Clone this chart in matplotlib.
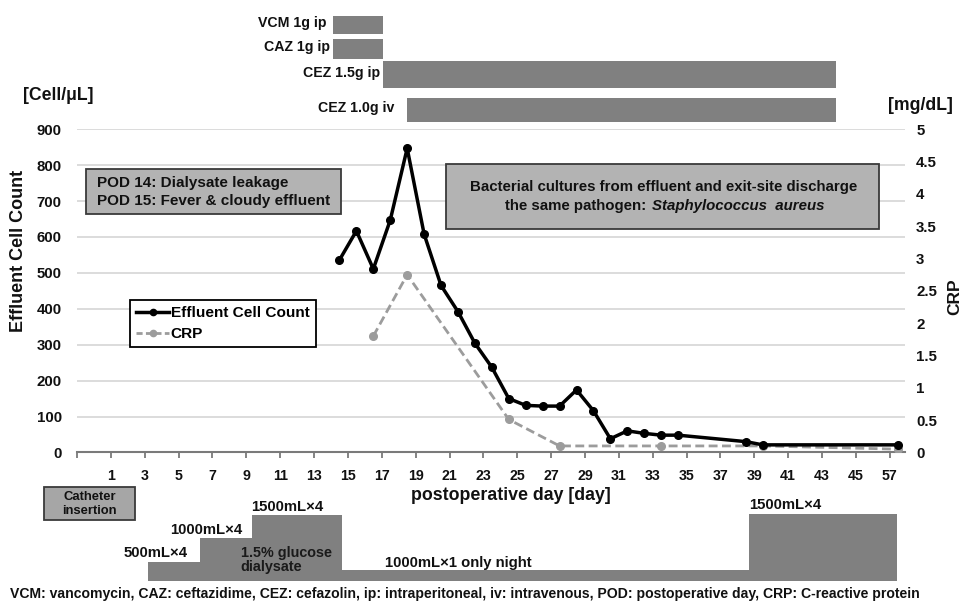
import matplotlib
matplotlib.use("Agg")
import matplotlib.pyplot as plt
from matplotlib.patches import Rectangle
from matplotlib.lines import Line2D
import numpy as np

plt.rcParams['font.family'] = ['Liberation Sans', 'DejaVu Sans']
plt.rcParams['font.weight'] = 'bold'

# ---------------- data ----------------
cell_days = [15, 16, 17, 18, 19, 20, 21, 22, 23, 24, 25, 26, 27, 28, 29, 30, 31, 32, 33, 34, 35, 39, 40, 57]
cell_vals = [536, 617, 511, 647, 847, 608, 465, 392, 304, 237, 150, 131, 129, 129, 174, 116, 38, 60, 53, 48, 48, 30, 21, 21]

crp_days = [17, 19, 25, 28, 34, 40, 57]
crp_vals = [1.80, 2.75, 0.51, 0.10, 0.10, 0.10, 0.05]

tick_labels = ['1', '3', '5', '7', '9', '11', '13', '15', '17', '19', '21', '23',
               '25', '27', '29', '31', '33', '35', '37', '39', '41', '43', '45', '57']

# antibiotic courses (axis day coordinate: start, end)
drug_names = ['VCM 1g ip', 'CAZ 1g ip', 'CEZ 1.5g ip', 'CEZ 1.0g iv']
drug_start = [14.1, 14.1, 17.1, 18.5]
drug_end = [17.1, 17.1, 43.8, 43.8]

# dialysis prescription steps (axis day coordinate) and relative daily volume level
dial_labels = ['500mL×4', '1000mL×4', '1500mL×4', '1000mL×1 only night', '1500mL×4']
dial_start = [3.22, 6.25, 9.32, 14.63, 38.7]
dial_end = [6.25, 9.32, 14.63, 38.7, 47.4]
dial_level = [1.7, 4.0, 6.1, 1.0, 6.2]


def axis_pos(days):
    # category-like axis: points sit half a day left of the day label; day 57 follows day 47
    return [d - 0.5 if d <= 46 else 47.5 for d in days]


W, H = 964, 603
fig = plt.figure(figsize=(W / 100, H / 100), dpi=100)


def fx(x):
    return x / W


def fy(y):
    return 1 - y / H


def ftext(x, y, s, **kw):
    kw.setdefault('color', '#111111')
    kw.setdefault('fontweight', 'bold')
    return fig.text(fx(x), fy(y), s, **kw)


XL = (-1, 47.9)
left_px, right_px = 77, 905
top_px, bot_px = 129.3, 452.4

ax = fig.add_axes([fx(left_px), fy(bot_px), (right_px - left_px) / W, (bot_px - top_px) / H])
ax2 = ax.twinx()
ax.set_xlim(*XL)
ax.set_ylim(0, 900)
ax2.set_ylim(0, 5)
ax.set_yticks(np.arange(0, 901, 100))
ax2.set_yticks(np.arange(0, 5.01, 0.5))
ax2.set_yticklabels(['0', '0.5', '1', '1.5', '2', '2.5', '3', '3.5', '4', '4.5', '5'])
ax.yaxis.grid(True, color='#d9d9d9', lw=1.3)
ax.set_axisbelow(True)
for a in (ax, ax2):
    for s in ('left', 'right', 'top'):
        a.spines[s].set_visible(False)
    a.spines['bottom'].set_color('#7a7a7a')
    a.spines['bottom'].set_linewidth(1.5)
ax2.spines['bottom'].set_visible(False)
ax.tick_params(axis='y', length=0, pad=11, labelsize=10.8, labelcolor='#111111')
ax2.tick_params(axis='y', length=0, pad=8, labelsize=10.8, labelcolor='#111111')

tick_pos = list(np.arange(1, 48, 2))
ax.set_xticks([-1] + tick_pos)
ax.set_xticklabels([''] + tick_labels)
ax.tick_params(axis='x', direction='out', length=4, width=1.3, color='#7a7a7a',
               pad=8, labelsize=10.2, labelcolor='#111111')

# CRP drawn on the right-axis scale, below the cell count line
ax.plot(axis_pos(crp_days), crp_vals, transform=ax2.transData, color='#9c9c9c', lw=2.0,
        ls=(0, (3.2, 1.6)), marker='o', ms=5.5, mfc='#9c9c9c', mec='#9c9c9c', zorder=3)
ax.plot(axis_pos(cell_days), cell_vals, color='black', lw=2.5, marker='o', ms=5.5, zorder=4)

# legend
handles = [Line2D([], [], color='black', lw=2.5, marker='o', ms=4.5),
           Line2D([], [], color='#9c9c9c', lw=2.0, ls=(0, (2.2, 1.2)), marker='o', ms=4.5)]
leg = fig.legend(handles, ['Effluent Cell Count', 'CRP'], loc='upper left',
                 bbox_to_anchor=(fx(130), fy(300)), frameon=True, fancybox=False,
                 edgecolor='black', framealpha=1, prop={'weight': 'bold', 'size': 11.1},
                 handlelength=2.1, handletextpad=0.12, borderpad=0.42, labelspacing=0.42,
                 borderaxespad=0)
leg.get_frame().set_linewidth(1.3)

# axis titles
ftext(19, 251, 'Effluent Cell Count', rotation=90, ha='center', va='center', fontsize=13)
ftext(22.7, 95, '[Cell/μL]', ha='left', va='center', fontsize=12.7)
ftext(887.7, 105, '[mg/dL]', ha='left', va='center', fontsize=12.7)
ftext(955, 297, 'CRP', rotation=90, ha='center', va='center', fontsize=12.5)
ftext(511, 495, 'postoperative day [day]', ha='center', va='center', fontsize=12.8)

# annotation boxes
fig.add_artist(Rectangle((fx(86), fy(214)), (341 - 86) / W, (214 - 169) / H,
                         transform=fig.transFigure, facecolor='#b3b3b3', edgecolor='#3a3a3a', lw=1.3))
ftext(96.7, 182.7, 'POD 14: Dialysate leakage', ha='left', va='center', fontsize=11)
ftext(96.7, 200.7, 'POD 15: Fever & cloudy effluent', ha='left', va='center', fontsize=11)

fig.add_artist(Rectangle((fx(445.7), fy(228.5)), (878.7 - 445.7) / W, (228.5 - 163.5) / H,
                         transform=fig.transFigure, facecolor='#b3b3b3', edgecolor='#3a3a3a', lw=1.3))
ftext(664, 187.3, 'Bacterial cultures from effluent and exit-site discharge', ha='center', va='center',
      fontsize=10.85)
ftext(646.7, 206, 'the same pathogen:', ha='right', va='center', fontsize=10.85)
ftext(652, 206, 'Staphylococcus  aureus', ha='left', va='center', fontsize=10.85, style='italic')

# antibiotic bars (top)
ax_top = fig.add_axes([fx(left_px), fy(125), (right_px - left_px) / W, (125 - 12) / H])
ax_top.set_xlim(*XL)
ax_top.set_ylim(125, 12)
ax_top.axis('off')
drug_rows = [25, 49, 74.5, 110]
drug_h = [18.6, 19.4, 27.6, 24.3]
ax_top.barh(drug_rows, np.subtract(drug_end, drug_start), left=drug_start, height=drug_h,
            color='#808080')
drug_text_end = [326, 330, 380, 394]
for name, row, xe in zip(drug_names, drug_rows, drug_text_end):
    ftext(xe, row - 2, name, ha='right', va='center', fontsize=10.2)

# dialysis prescription steps (bottom)
ax_bot = fig.add_axes([fx(left_px), fy(580.6), (right_px - left_px) / W, 70 / H])
ax_bot.set_xlim(*XL)
ax_bot.set_ylim(0, 70 / 10.75)
ax_bot.axis('off')
ax_bot.bar(dial_start, dial_level, width=np.subtract(dial_end, dial_start), align='edge',
           color='#808080')

fig.add_artist(Rectangle((fx(44.3), fy(520)), (135 - 44.3) / W, (520 - 486.7) / H,
                         transform=fig.transFigure, facecolor='#a6a6a6', edgecolor='#3a3a3a', lw=1.3))
ftext(89.7, 497, 'Catheter', ha='center', va='center', fontsize=9.4)
ftext(89.7, 511.5, 'insertion', ha='center', va='center', fontsize=9.4)

dial_text_xy = [(124, 553), (170, 530), (250.7, 507.3), (385, 563.3), (749.3, 505)]
for lab, (x, y) in zip(dial_labels, dial_text_xy):
    ftext(x, y, lab, ha='left', va='center', fontsize=10.7)
ftext(240.7, 552.7, '1.5% glucose', ha='left', va='center', fontsize=10.4, color='#1a1a1a')
ftext(240.7, 567.3, 'dialysate', ha='left', va='center', fontsize=10.4, color='#1a1a1a')

ftext(10, 594, 'VCM: vancomycin, CAZ: ceftazidime, CEZ: cefazolin, ip: intraperitoneal, '
      'iv: intravenous, POD: postoperative day, CRP: C-reactive protein',
      ha='left', va='center', fontsize=10.1)

fig.savefig('out.png', dpi=100)
